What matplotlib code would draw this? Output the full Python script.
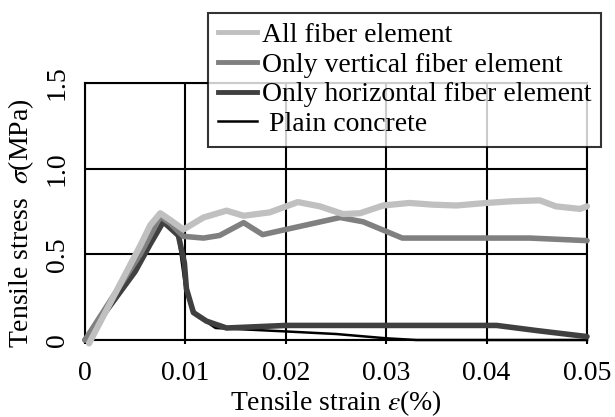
import matplotlib
matplotlib.use("Agg")
import matplotlib.pyplot as plt
from matplotlib.lines import Line2D

plt.rcParams['font.family'] = ['Liberation Serif', 'DejaVu Serif']
plt.rcParams['mathtext.fontset'] = 'stix'

# ---- data ----
all_x = [0.0004, 0.0055, 0.0065, 0.0075, 0.0085, 0.0098, 0.0118, 0.0141, 0.0158, 0.0184,
         0.0212, 0.0234, 0.0257, 0.0274, 0.0297, 0.0323, 0.0346, 0.0370, 0.0400, 0.0426,
         0.0453, 0.0469, 0.0493, 0.0500]
all_y = [-0.02, 0.55, 0.67, 0.74, 0.70, 0.645, 0.715, 0.755, 0.725, 0.745,
         0.805, 0.78, 0.735, 0.74, 0.785, 0.80, 0.79, 0.785, 0.80, 0.81,
         0.815, 0.78, 0.765, 0.78]

vert_x = [0.0, 0.0055, 0.0075, 0.0085, 0.0098, 0.0118, 0.0134, 0.0158, 0.0177, 0.0200,
          0.0254, 0.0277, 0.0316, 0.0443, 0.0500]
vert_y = [0.0, 0.50, 0.72, 0.68, 0.605, 0.595, 0.61, 0.685, 0.615, 0.645,
          0.715, 0.69, 0.595, 0.595, 0.58]

hor_x = [0.0, 0.0050, 0.0065, 0.0078, 0.0093, 0.0099, 0.0101, 0.0108, 0.0121, 0.0141,
         0.0200, 0.0300, 0.0410, 0.0450, 0.0500]
hor_y = [0.0, 0.40, 0.56, 0.69, 0.61, 0.45, 0.30, 0.16, 0.11, 0.07,
         0.085, 0.085, 0.085, 0.055, 0.02]

plain_x = [0.0, 0.0078, 0.0093, 0.0100, 0.0110, 0.0130, 0.0200, 0.0250, 0.0300, 0.0330, 0.0500]
plain_y = [0.0, 0.70, 0.60, 0.30, 0.15, 0.07, 0.05, 0.035, 0.01, 0.0, 0.0]

x_ticks = [0, 0.01, 0.02, 0.03, 0.04, 0.05]
x_labels = ['0', '0.01', '0.02', '0.03', '0.04', '0.05']
y_ticks = [0, 0.5, 1.0, 1.5]
y_labels = ['0', '0.5', '1.0', '1.5']

series_names = ['All fiber element', 'Only vertical fiber element',
                'Only horizontal fiber element', ' Plain concrete']

# ---- figure ----
fig = plt.figure(figsize=(6.15, 4.17), dpi=100)
ax = fig.add_axes([85/615, 1-340/417, (587-85)/615, (340-83)/417])

c_all, c_vert, c_hor, c_plain = '#c0c0c0', '#808080', '#404040', '#000000'

ax.plot(plain_x, plain_y, color=c_plain, lw=1.8, zorder=3, clip_on=False)
ax.plot(hor_x, hor_y, color=c_hor, lw=4.0, zorder=4, clip_on=False,
        solid_capstyle='round', solid_joinstyle='round')
ax.plot(vert_x, vert_y, color=c_vert, lw=4.0, zorder=5, clip_on=False,
        solid_capstyle='round', solid_joinstyle='round')
ax.plot(all_x, all_y, color=c_all, lw=4.5, zorder=6, clip_on=False,
        solid_capstyle='round', solid_joinstyle='round')

FS = 20
ax.set_xlim(0, 0.05)
ax.set_ylim(0, 1.5)
ax.set_xticks(x_ticks)
ax.set_xticklabels(x_labels, fontsize=FS)
ax.set_yticks(y_ticks)
ax.set_yticklabels(y_labels, fontsize=FS, rotation=90, va='center')
ax.tick_params(axis='x', length=3, width=1.5, pad=12, direction='out')
ax.tick_params(axis='y', length=0, pad=11)
ax.grid(True, color='black', lw=1.5)
ax.set_axisbelow(True)
for s in ax.spines.values():
    s.set_linewidth(1.5)
    s.set_color('black')

ax.set_xlabel(r'Tensile strain $\varepsilon$(%)', fontsize=FS, labelpad=2)
ax.set_ylabel(r'Tensile stress  $\sigma$(MPa)', fontsize=FS, labelpad=2)
ax.yaxis.set_label_coords(-0.098, 0.455)

handles = [Line2D([], [], color=c_all, lw=3.5),
           Line2D([], [], color=c_vert, lw=3.5),
           Line2D([], [], color=c_hor, lw=3.5),
           Line2D([], [], color=c_plain, lw=1.8)]
leg = fig.legend(handles, series_names, loc='upper left',
                 bbox_to_anchor=(208/615, 1-13/417), bbox_transform=fig.transFigure,
                 borderaxespad=0, fontsize=FS, frameon=True, fancybox=False,
                 handlelength=1.4, handletextpad=0.2, labelspacing=0.15,
                 borderpad=0.35)
leg.get_frame().set_edgecolor('black')
leg.get_frame().set_linewidth(1.5)
leg.set_zorder(10)

fig.savefig('out.png', dpi=100)
